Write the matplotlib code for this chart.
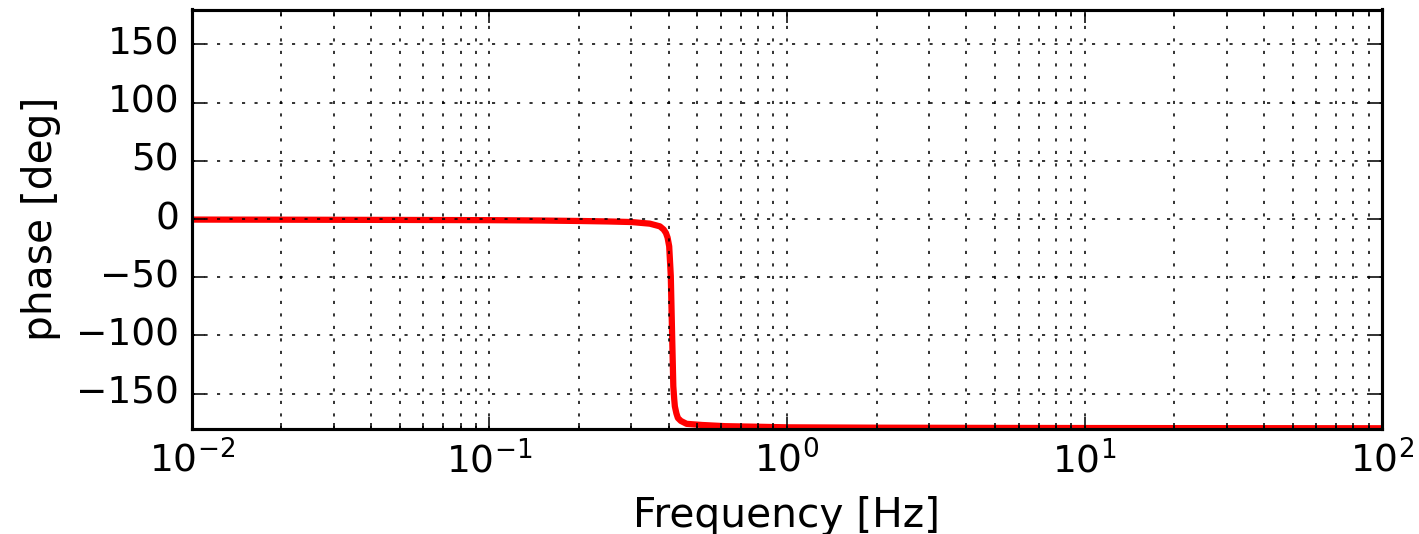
import numpy as np
import matplotlib
matplotlib.use("Agg")
import matplotlib.pyplot as plt

plt.style.use("classic")

# values
freq_hz = [0.01, 0.02, 0.05, 0.1, 0.15, 0.2, 0.25, 0.3, 0.346, 0.374, 0.385,
           0.392, 0.397, 0.402, 0.407, 0.411, 0.415, 0.418, 0.42, 0.425, 0.43,
           0.44, 0.46, 0.52, 0.62, 0.8, 1.0, 2.0, 5.0, 10.0, 30.0, 100.0]
phase_deg = [-0.5, -0.6, -0.8, -1.0, -1.3, -1.7, -2.1, -2.6, -4.0, -6.3, -9.0,
             -12.0, -16.0, -23.5, -49.0, -97.6, -143.7, -155.0, -161.0, -167.0, -171.0,
             -173.5, -176.0, -177.0, -178.0, -178.5, -179.0, -179.3, -179.5, -179.6, -179.7, -179.8]
y_ticks = [-150, -100, -50, 0, 50, 100, 150]

fig = plt.figure(figsize=(1419 / 225, 534 / 225), dpi=225, facecolor="white")
ax = fig.add_axes([191.7 / 1419, 1 - 428.5 / 534, (1382.3 - 191.7) / 1419, (428.5 - 9.5) / 534])

ax.semilogx(freq_hz, phase_deg, color="r", linewidth=2)
ax.set_xlim(1e-2, 1e2)
ax.set_ylim(-180, 180)
ax.set_yticks(y_ticks)
ax.grid(True, which="both", color="k", linestyle=":", linewidth=0.5)
ax.set_xlabel("Frequency [Hz]", fontsize=13)
ax.set_ylabel("phase [deg]", fontsize=13)

fig.savefig("out.png", dpi=225, facecolor="white")
